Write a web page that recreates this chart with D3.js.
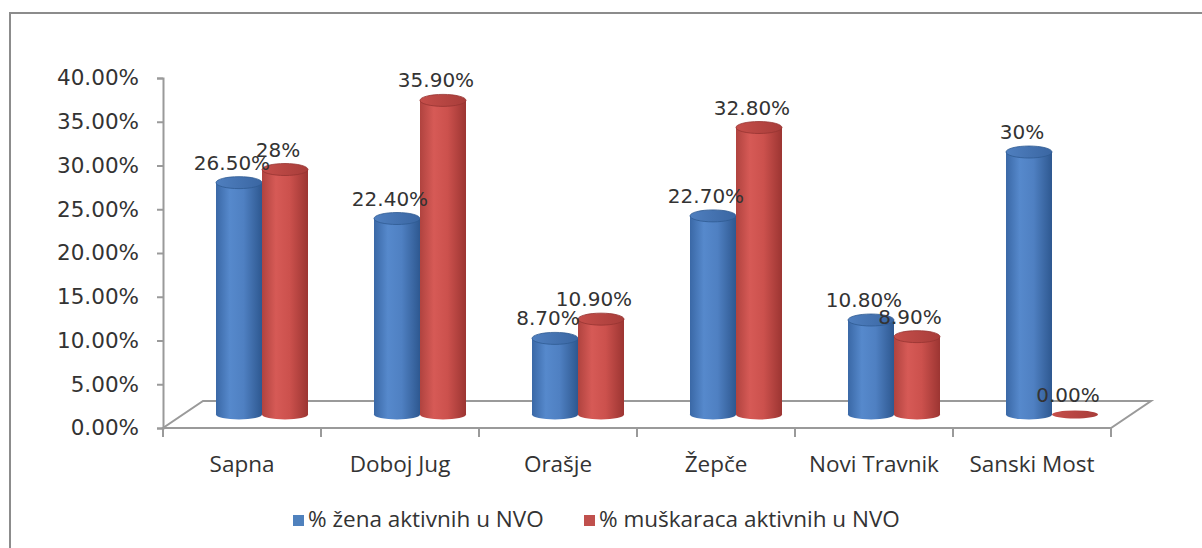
<!DOCTYPE html>
<html lang="bs">
<head>
  <meta charset="UTF-8">
  <title>% žena i muškaraca aktivnih u NVO</title>
  <style>
    body {
      margin: 0;
      background-color: #fff;
    }
    svg {
      display: block;
    }
  </style>
  <script src="https://d3js.org/d3.v7.min.js"></script>
</head>
<body>
  <svg width="1202" height="548"></svg>

  <script>
    // Podaci
    const categories = ["Sapna", "Doboj Jug", "Orašje", "Žepče", "Novi Travnik", "Sanski Most"];
    const series = ["% žena aktivnih u NVO", "% muškaraca aktivnih u NVO"];
    const zene = [26.5, 22.4, 8.7, 22.7, 10.8, 30];
    const muskarci = [28, 35.9, 10.9, 32.8, 8.9, 0];
    const zeneLabels = ["26.50%", "22.40%", "8.70%", "22.70%", "10.80%", "30%"];
    const muskarciLabels = ["28%", "35.90%", "10.90%", "32.80%", "8.90%", "0.00%"];
    const yTicks = [0, 5, 10, 15, 20, 25, 30, 35, 40];

    const svg = d3.select("svg");

    // Okvir grafikona
    svg.append("path")
      .attr("d", "M10,548 L10,13 L1202,13")
      .attr("fill", "none")
      .attr("stroke", "#8c8c8c")
      .attr("stroke-width", 2);

    // Skale
    const x = d3.scaleBand().domain(categories).range([163, 1111]);
    const y = d3.scaleLinear().domain([0, 40]).range([428, 78]);
    const pair = 92;
    const xs = d3.scaleBand().domain(series).range([0, pair]);

    // 3D pomak (dubina poda)
    const depthX = 40, depthY = -27;
    const dx = depthX / 2, dy = depthY / 2;

    // Gradijenti
    const defs = svg.append("defs");
    function grad(id, stops) {
      const g = defs.append("linearGradient").attr("id", id)
        .attr("x1", "0%").attr("x2", "100%").attr("y1", "0%").attr("y2", "0%");
      stops.forEach(s => g.append("stop").attr("offset", s[0]).attr("stop-color", s[1]));
    }
    grad("bodyB", [["0%", "#3a68a6"], ["30%", "#5689cc"], ["60%", "#4f80c2"], ["100%", "#2e5890"]]);
    grad("topB", [["0%", "#4f7fbf"], ["100%", "#3a66a2"]]);
    grad("bodyR", [["0%", "#b0433f"], ["30%", "#d65a56"], ["60%", "#cc514d"], ["100%", "#9c3532"]]);
    grad("topR", [["0%", "#c54e4a"], ["100%", "#a83d3a"]]);

    const colors = {
      body: ["url(#bodyB)", "url(#bodyR)"],
      top: ["url(#topB)", "url(#topR)"],
      edge: ["#2f5a92", "#963431"],
      legend: ["#4F81BD", "#C0504D"]
    };

    // Pod
    const x0 = x.range()[0], x1 = x.range()[1], yb = y(0);
    svg.append("path")
      .attr("d", `M${x0},${yb} L${x1},${yb} L${x1 + depthX},${yb + depthY} L${x0 + depthX},${yb + depthY} Z`)
      .attr("fill", "none")
      .attr("stroke", "#9a9a9a")
      .attr("stroke-width", 2);

    // Y os
    const yAxis = svg.append("g").attr("transform", `translate(${x0},0)`)
      .call(d3.axisLeft(y).tickValues(yTicks).tickSize(6).tickPadding(18)
        .tickFormat(d => d.toFixed(2) + "%"));
    yAxis.select(".domain").attr("stroke", "#9a9a9a").attr("stroke-width", 2);
    yAxis.selectAll(".tick line").attr("stroke", "#9a9a9a").attr("stroke-width", 2);
    yAxis.selectAll(".tick text")
      .attr("fill", "#333")
      .style("font-family", "'DejaVu Sans', Verdana, sans-serif")
      .style("font-size", "21.5px");

    // X os (kvačice i nazivi)
    const xAxis = svg.append("g").attr("transform", `translate(0,${yb})`)
      .call(d3.axisBottom(x).tickSize(0).tickPadding(28));
    xAxis.select(".domain").remove();
    xAxis.selectAll(".tick text")
      .attr("fill", "#333")
      .style("font-family", "'Open Sans', Lato, sans-serif")
      .style("font-size", "22.5px");
    const bounds = categories.map(c => x(c)).concat([x1]);
    svg.append("g").selectAll("line").data(bounds).join("line")
      .attr("x1", d => d).attr("x2", d => d)
      .attr("y1", yb).attr("y2", yb + 9)
      .attr("stroke", "#9a9a9a").attr("stroke-width", 2);

    // Valjci
    const bars = [];
    categories.forEach((c, i) => {
      [zene[i], muskarci[i]].forEach((v, s) => {
        bars.push({
          c, s, v,
          label: s === 0 ? zeneLabels[i] : muskarciLabels[i],
          cx: x(c) + (x.bandwidth() - pair) / 2 + xs(series[s]) + xs.bandwidth() / 2 + dx
        });
      });
    });
    const rx = xs.bandwidth() / 2, ryTop = 6, ryBot = 5;
    const baseY = y(0) + dy;

    const cyl = svg.append("g").selectAll("g").data(bars).join("g");
    cyl.each(function (d) {
      const g = d3.select(this);
      const top = y(d.v) + dy;
      if (d.v > 0) {
        g.append("ellipse")
          .attr("cx", d.cx).attr("cy", baseY).attr("rx", rx).attr("ry", ryBot)
          .attr("fill", colors.body[d.s]);
        g.append("rect")
          .attr("x", d.cx - rx).attr("y", top).attr("width", rx * 2).attr("height", baseY - top)
          .attr("fill", colors.body[d.s]);
        g.append("ellipse")
          .attr("cx", d.cx).attr("cy", top).attr("rx", rx).attr("ry", ryTop)
          .attr("fill", colors.top[d.s])
          .attr("stroke", colors.edge[d.s]).attr("stroke-width", 0.8);
      } else {
        g.append("ellipse")
          .attr("cx", d.cx).attr("cy", baseY).attr("rx", rx).attr("ry", 4)
          .attr("fill", colors.top[d.s]);
      }
    });

    // Oznake vrijednosti
    svg.append("g").selectAll("text").data(bars).join("text")
      .attr("x", d => d.cx - 7)
      .attr("y", d => y(d.v) + dy - 13)
      .attr("text-anchor", "middle")
      .attr("fill", "#333")
      .style("font-family", "'DejaVu Sans', Verdana, sans-serif")
      .style("font-size", "20px")
      .text(d => d.label);

    // Legenda
    const legendX = [293, 584];
    const legend = svg.append("g").selectAll("g").data(series).join("g")
      .attr("transform", (d, i) => `translate(${legendX[i]},515)`);
    legend.append("rect")
      .attr("width", 11).attr("height", 11)
      .attr("fill", (d, i) => colors.legend[i]);
    legend.append("text")
      .attr("x", 15).attr("y", 12)
      .attr("fill", "#333")
      .style("font-family", "'Open Sans', Lato, sans-serif")
      .style("font-size", "22.5px")
      .text(d => d);
  </script>
</body>
</html>
